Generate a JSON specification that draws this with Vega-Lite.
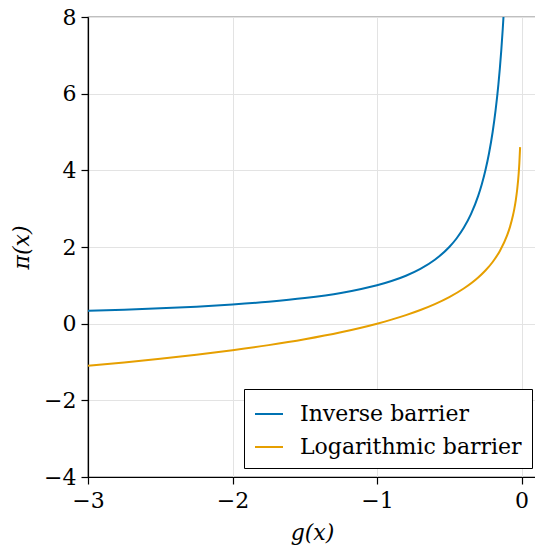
{
  "$schema": "https://vega.github.io/schema/vega-lite/v6.json",
  "width": 448,
  "height": 460,
  "autosize": {"type": "none"},
  "padding": {"left": 88, "top": 17, "right": 0, "bottom": 70},
  "background": "white",
  "config": {
    "view": {"stroke": "black", "strokeWidth": 1.2},
    "font": "DejaVu Serif",
    "axis": {
      "domain": true,
      "domainColor": "black",
      "domainWidth": 1.2,
      "grid": true,
      "gridColor": "#e3e3e3",
      "gridWidth": 1,
      "tickColor": "black",
      "tickSize": 7,
      "tickWidth": 1.2,
      "labelFlush": false,
      "labelFont": "DejaVu Serif",
      "labelFontSize": 22,
      "labelColor": "black",
      "titleFont": "DejaVu Serif",
      "titleFontSize": 22,
      "titleFontWeight": "normal",
      "titleFontStyle": "italic",
      "titleColor": "black"
    },
    "legend": {
      "labelFont": "DejaVu Serif",
      "labelFontSize": 22,
      "labelColor": "black",
      "labelLimit": 500
    }
  },
  "data": {
    "values": [
      {"g": -3, "pi": 0.3333, "series": "Inverse barrier"},
      {"g": -2.75, "pi": 0.3636, "series": "Inverse barrier"},
      {"g": -2.5, "pi": 0.4, "series": "Inverse barrier"},
      {"g": -2.25, "pi": 0.4444, "series": "Inverse barrier"},
      {"g": -2, "pi": 0.5, "series": "Inverse barrier"},
      {"g": -1.75, "pi": 0.5714, "series": "Inverse barrier"},
      {"g": -1.5, "pi": 0.6667, "series": "Inverse barrier"},
      {"g": -1.25, "pi": 0.8, "series": "Inverse barrier"},
      {"g": -1, "pi": 1, "series": "Inverse barrier"},
      {"g": -0.9, "pi": 1.1111, "series": "Inverse barrier"},
      {"g": -0.8, "pi": 1.25, "series": "Inverse barrier"},
      {"g": -0.7, "pi": 1.4286, "series": "Inverse barrier"},
      {"g": -0.6, "pi": 1.6667, "series": "Inverse barrier"},
      {"g": -0.5, "pi": 2, "series": "Inverse barrier"},
      {"g": -0.45, "pi": 2.2222, "series": "Inverse barrier"},
      {"g": -0.4, "pi": 2.5, "series": "Inverse barrier"},
      {"g": -0.35, "pi": 2.8571, "series": "Inverse barrier"},
      {"g": -0.3, "pi": 3.3333, "series": "Inverse barrier"},
      {"g": -0.275, "pi": 3.6364, "series": "Inverse barrier"},
      {"g": -0.25, "pi": 4, "series": "Inverse barrier"},
      {"g": -0.225, "pi": 4.4444, "series": "Inverse barrier"},
      {"g": -0.2, "pi": 5, "series": "Inverse barrier"},
      {"g": -0.18, "pi": 5.5556, "series": "Inverse barrier"},
      {"g": -0.16, "pi": 6.25, "series": "Inverse barrier"},
      {"g": -0.15, "pi": 6.6667, "series": "Inverse barrier"},
      {"g": -0.14, "pi": 7.1429, "series": "Inverse barrier"},
      {"g": -0.13, "pi": 7.6923, "series": "Inverse barrier"},
      {"g": -0.125, "pi": 8, "series": "Inverse barrier"},
      {"g": -3, "pi": -1.0986, "series": "Logarithmic barrier"},
      {"g": -2.75, "pi": -1.0116, "series": "Logarithmic barrier"},
      {"g": -2.5, "pi": -0.9163, "series": "Logarithmic barrier"},
      {"g": -2.25, "pi": -0.8109, "series": "Logarithmic barrier"},
      {"g": -2, "pi": -0.6931, "series": "Logarithmic barrier"},
      {"g": -1.75, "pi": -0.5596, "series": "Logarithmic barrier"},
      {"g": -1.5, "pi": -0.4055, "series": "Logarithmic barrier"},
      {"g": -1.25, "pi": -0.2231, "series": "Logarithmic barrier"},
      {"g": -1, "pi": 0, "series": "Logarithmic barrier"},
      {"g": -0.9, "pi": 0.1054, "series": "Logarithmic barrier"},
      {"g": -0.8, "pi": 0.2231, "series": "Logarithmic barrier"},
      {"g": -0.7, "pi": 0.3567, "series": "Logarithmic barrier"},
      {"g": -0.6, "pi": 0.5108, "series": "Logarithmic barrier"},
      {"g": -0.5, "pi": 0.6931, "series": "Logarithmic barrier"},
      {"g": -0.4, "pi": 0.9163, "series": "Logarithmic barrier"},
      {"g": -0.3, "pi": 1.204, "series": "Logarithmic barrier"},
      {"g": -0.25, "pi": 1.3863, "series": "Logarithmic barrier"},
      {"g": -0.2, "pi": 1.6094, "series": "Logarithmic barrier"},
      {"g": -0.15, "pi": 1.8971, "series": "Logarithmic barrier"},
      {"g": -0.1, "pi": 2.3026, "series": "Logarithmic barrier"},
      {"g": -0.08, "pi": 2.5257, "series": "Logarithmic barrier"},
      {"g": -0.06, "pi": 2.8134, "series": "Logarithmic barrier"},
      {"g": -0.05, "pi": 2.9957, "series": "Logarithmic barrier"},
      {"g": -0.04, "pi": 3.2189, "series": "Logarithmic barrier"},
      {"g": -0.03, "pi": 3.5066, "series": "Logarithmic barrier"},
      {"g": -0.02, "pi": 3.912, "series": "Logarithmic barrier"},
      {"g": -0.015, "pi": 4.1997, "series": "Logarithmic barrier"},
      {"g": -0.01, "pi": 4.6052, "series": "Logarithmic barrier"}
    ]
  },
  "mark": {"type": "line", "strokeWidth": 2, "interpolate": "monotone"},
  "encoding": {
    "x": {
      "field": "g",
      "type": "quantitative",
      "scale": {"domain": [-3, 0.1], "nice": false, "zero": false},
      "axis": {"values": [-3, -2, -1, 0], "title": "g(x)", "titlePadding": 11, "labelPadding": 6, "format": "d"}
    },
    "y": {
      "field": "pi",
      "type": "quantitative",
      "scale": {"domain": [-4, 8], "nice": false, "zero": false},
      "axis": {"values": [-4, -2, 0, 2, 4, 6, 8], "title": "π(x)", "titlePadding": 10, "labelPadding": 5, "format": "d"}
    },
    "color": {
      "field": "series",
      "type": "nominal",
      "scale": {"domain": ["Inverse barrier", "Logarithmic barrier"], "range": ["#0072b2", "#e69f00"]},
      "legend": {
        "title": null,
        "orient": "none",
        "legendX": 156,
        "legendY": 372,
        "symbolType": "stroke",
        "symbolSize": 784,
        "symbolStrokeWidth": 2,
        "labelOffset": 16,
        "rowPadding": 7,
        "padding": 10,
        "strokeColor": "black",
        "fillColor": "white",
        "cornerRadius": 0
      }
    }
  }
}
